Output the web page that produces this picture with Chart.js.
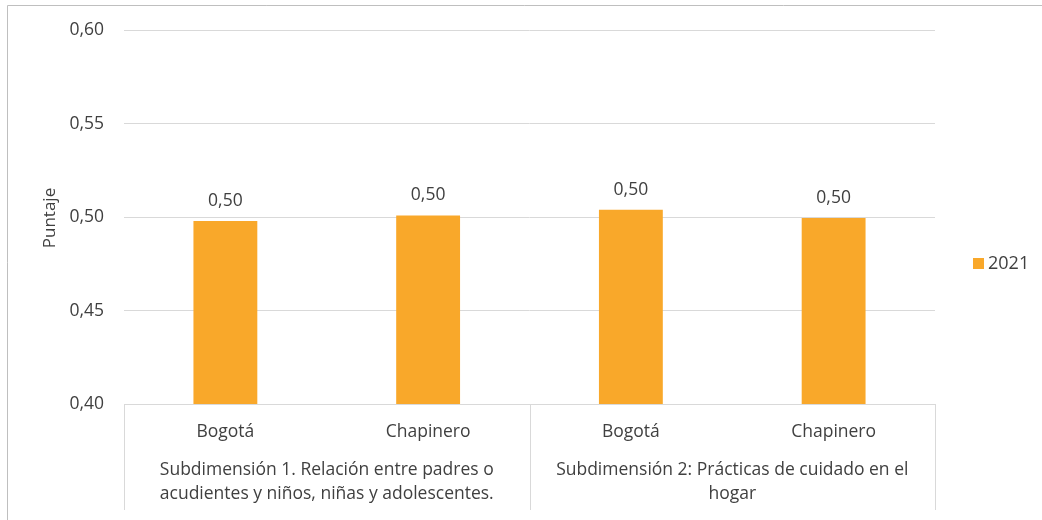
<!DOCTYPE html>
<html><head><meta charset="utf-8">
<script src="https://cdn.jsdelivr.net/npm/chart.js@4"></script>
<style>html,body{margin:0;padding:0;background:#fff}#wrap{width:1042px;height:520px;position:relative}</style>
</head><body><div id="wrap"><canvas id="c" width="1042" height="520"></canvas></div>
<script>
const categories = ["Bogotá", "Chapinero", "Bogotá", "Chapinero"];
const groups = [
  ["Subdimensión 1. Relación entre padres o", "acudientes y niños, niñas y adolescentes."],
  ["Subdimensión 2: Prácticas de cuidado en el", "hogar"]
];
const groupSizes = [2, 2];
const seriesName = "2021";
const values2021 = [0.498, 0.501, 0.504, 0.4996];
const yTicks = [0.40, 0.45, 0.50, 0.55, 0.60];

const FONT = "'Open Sans', 'Noto Sans', sans-serif";
const TXT = '#404040';
const GRID = '#d9d9d9';
const fmt = v => v.toFixed(2).replace('.', ',');

const custom = {
  id: 'custom',
  beforeDraw(chart) {
    const ctx = chart.ctx;
    ctx.save();
    ctx.strokeStyle = '#bfbfbf';
    ctx.lineWidth = 1;
    ctx.beginPath();
    ctx.moveTo(7.5, 520); ctx.lineTo(7.5, 5.5); ctx.lineTo(1042, 5.5);
    ctx.stroke();
    ctx.restore();
  },
  afterDraw(chart) {
    const ctx = chart.ctx;
    const x = chart.scales.x, y = chart.scales.y;
    const area = chart.chartArea;
    ctx.save();
    ctx.strokeStyle = GRID;
    ctx.lineWidth = 1;
    const step = (x.getPixelForValue(1) - x.getPixelForValue(0));
    let idx = 0;
    const bounds = [];
    ctx.beginPath();
    const left0 = Math.round(x.getPixelForValue(0) - step / 2) + 0.5;
    ctx.moveTo(left0, area.bottom); ctx.lineTo(left0, 510);
    groupSizes.forEach(n => {
      const l = x.getPixelForValue(idx) - step / 2;
      idx += n;
      const r = x.getPixelForValue(idx - 1) + step / 2;
      bounds.push([l, r]);
      const rx = Math.round(r) + 0.5;
      ctx.moveTo(rx, area.bottom); ctx.lineTo(rx, 510);
    });
    ctx.stroke();
    ctx.fillStyle = TXT;
    ctx.font = '17.5px ' + FONT;
    ctx.textAlign = 'center';
    ctx.textBaseline = 'middle';
    categories.forEach((c, i) => ctx.fillText(c, x.getPixelForValue(i), 432));
    groups.forEach((g, gi) => {
      const cx = (bounds[gi][0] + bounds[gi][1]) / 2;
      g.forEach((line, li) => ctx.fillText(line, cx, 470 + li * 24));
    });
    ctx.font = '17.5px ' + FONT;
    ctx.textBaseline = 'alphabetic';
    const meta = chart.getDatasetMeta(0);
    meta.data.forEach((bar, i) => {
      ctx.fillText(fmt(values2021[i]), bar.x, bar.y - 15);
    });
    ctx.save();
    ctx.translate(50, 218);
    ctx.rotate(-Math.PI / 2);
    ctx.font = '17px ' + FONT;
    ctx.textBaseline = 'middle';
    ctx.fillText('Puntaje', 0, 0);
    ctx.restore();
    const ds = chart.data.datasets[0];
    ctx.fillStyle = ds.backgroundColor;
    ctx.fillRect(973, 258, 11, 11);
    ctx.fillStyle = TXT;
    ctx.font = '18px ' + FONT;
    ctx.textAlign = 'left';
    ctx.textBaseline = 'middle';
    ctx.fillText(ds.label, 988, 264);
    ctx.restore();
  }
};

new Chart(document.getElementById('c'), {
  type: 'bar',
  data: {
    labels: categories,
    datasets: [{ label: seriesName, data: values2021, backgroundColor: '#f9a82a',
      barPercentage: 0.63, categoryPercentage: 0.5 }]
  },
  options: {
    responsive: false,
    animation: false,
    layout: { padding: { top: 30, right: 107, bottom: 0, left: 0 } },
    plugins: { legend: { display: false }, tooltip: { enabled: false } },
    scales: {
      x: {
        grid: { display: false, drawTicks: false },
        border: { display: true, color: GRID },
        ticks: { display: false },
        afterFit(s) { s.height = 116; }
      },
      y: {
        min: 0.40, max: 0.60,
        afterBuildTicks(s) { s.ticks = yTicks.map(v => ({ value: v })); },
        ticks: { color: TXT, font: { family: FONT, size: 17.5 }, padding: 20, callback: v => fmt(v) },
        grid: { color: GRID, drawTicks: false },
        border: { display: false },
        afterFit(s) { s.width = 124; }
      }
    }
  },
  plugins: [custom]
});
</script>
</body></html>
